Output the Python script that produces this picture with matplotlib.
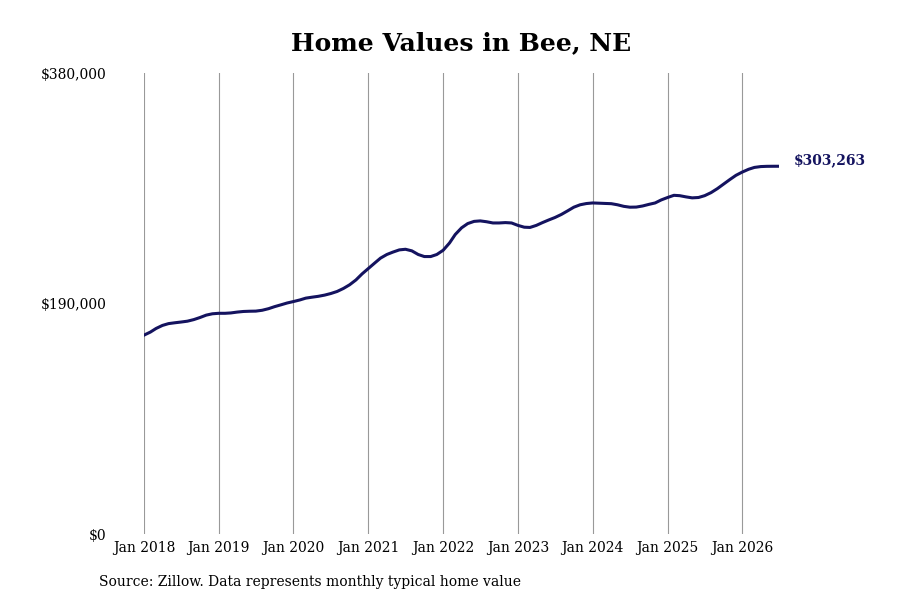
import matplotlib
matplotlib.use('Agg')
import matplotlib.pyplot as plt
import matplotlib.dates as mdates
import numpy as np
import pandas as pd

plt.rcParams['font.family'] = ['DejaVu Serif']

# monthly typical home value, Jan 2018 .. Jul 2026
values = [
    164000, 166500, 169500, 172000, 173500, 174200, 174800, 175500, 176800, 178500, 180500, 181600,
    182000, 182000, 182300, 183000, 183500, 183700, 183800, 184500, 185800, 187500, 189000, 190500,
    191700, 193000, 194500, 195300, 196000, 197000, 198300, 200000, 202500, 205500, 209500, 214500,
    219000, 223500, 227500, 230500, 232500, 234300, 234800, 233500, 230500, 228800, 228800, 230500,
    234000, 240000, 247000, 252500, 256000, 257800, 258200, 257500, 256500, 256500, 256800, 256500,
    254500, 253000, 252800, 254500, 256800, 259000, 261000, 263500, 266500, 269500, 271500, 272500,
    273000, 272800, 272600, 272400, 271500, 270200, 269500, 269600, 270500, 271800, 273000, 275500,
    277500, 279300, 279000, 278000, 277200, 277500, 279000, 281500, 284800, 288500, 292300, 295800,
    298500, 300800, 302300, 303000, 303200, 303250, 303263,
]
dates = pd.date_range('2018-01-01', periods=len(values), freq='MS')
yticks = [0, 190000, 380000]
tick_years = list(range(2018, 2027))
last_label = '$303,263'
line_color = '#14135f'

fig = plt.figure(figsize=(9, 6), dpi=100)
ax = fig.add_axes([0.16, 0.11, 0.706, 0.768])
ax.plot(dates, values, color=line_color, linewidth=2.2)

ax.set_ylim(0, 380000)
ax.set_xlim(dates[0], dates[-1])
ax.set_yticks(yticks)
ax.set_yticklabels(['${:,}'.format(v) for v in yticks])
ax.set_xticks([pd.Timestamp(f'{y}-01-01') for y in tick_years])
ax.set_xticklabels([f'Jan {y}' for y in tick_years])
ax.tick_params(axis='x', length=0, pad=5, labelsize=10)
ax.tick_params(axis='y', length=0, pad=27, labelsize=10)
ax.grid(axis='x', color='#999999', linewidth=0.8)
for s in ax.spines.values():
    s.set_visible(False)

ax.annotate(last_label, xy=(dates[-1], values[-1]), xytext=(10, 4), textcoords='offset points',
            color=line_color, fontsize=10, fontweight='bold', va='center', ha='left')

fig.suptitle('Home Values in Bee, NE', x=0.512, y=0.948, fontsize=18, fontweight='bold')
fig.text(0.11, 0.024, 'Source: Zillow. Data represents monthly typical home value', fontsize=10)

fig.savefig('out.png', dpi=100)
